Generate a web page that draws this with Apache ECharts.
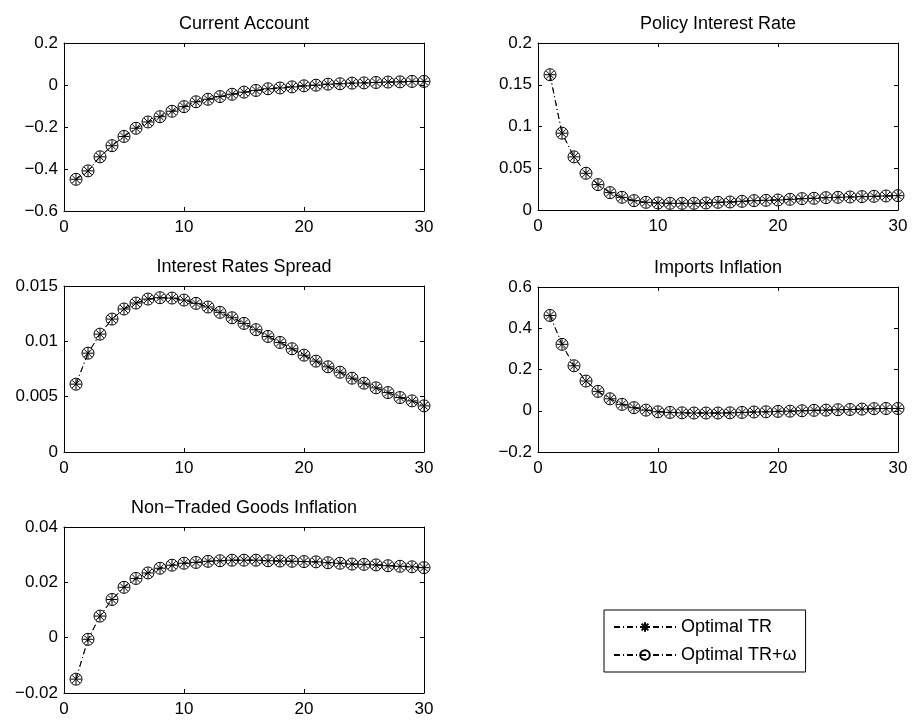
<!DOCTYPE html>
<html>
<head>
<meta charset="utf-8">
<script src="https://cdn.jsdelivr.net/npm/echarts@6/dist/echarts.min.js"></script>
<style>html,body{margin:0;padding:0;background:#fff}#c{width:913px;height:720px}</style>
</head>
<body>
<div id="c"></div>
<script>
// x: periods 1..30
var periods = [];
for (var i = 1; i <= 30; i++) periods.push(i);

var titles = ['Current Account', 'Policy Interest Rate', 'Interest Rates Spread', 'Imports Inflation', 'Non\u2212Traded Goods Inflation'];
var seriesNames = ['Optimal TR', 'Optimal TR+\u03c9'];

var currentAccount = [-0.449,-0.409,-0.342,-0.289,-0.245,-0.206,-0.176,-0.151,-0.125,-0.103,-0.080,-0.068,-0.055,-0.044,-0.034,-0.026,-0.018,-0.014,-0.009,-0.004,-0.001,0.004,0.006,0.009,0.010,0.012,0.014,0.015,0.017,0.017];
var policyRate = [0.162,0.092,0.0636,0.044,0.0304,0.0208,0.0152,0.0112,0.0092,0.0084,0.008,0.008,0.008,0.0084,0.0092,0.0096,0.0104,0.0112,0.0116,0.012,0.0128,0.0136,0.014,0.0148,0.0152,0.0156,0.016,0.0164,0.0168,0.0172];
var ratesSpread = [0.00613,0.00893,0.01065,0.01201,0.01292,0.01346,0.01382,0.01394,0.01391,0.01373,0.01343,0.0131,0.01262,0.01213,0.01162,0.01105,0.01044,0.0099,0.00933,0.00875,0.00821,0.0077,0.00721,0.00667,0.00622,0.0058,0.00537,0.00492,0.00462,0.00417];
var importsInflation = [0.462,0.322,0.218,0.144,0.094,0.058,0.031,0.015,0.003,-0.005,-0.008,-0.010,-0.011,-0.011,-0.011,-0.010,-0.008,-0.006,-0.005,-0.003,-0.002,0.000,0.002,0.003,0.005,0.006,0.008,0.010,0.011,0.011];
var nonTradedInflation = [-0.015,-0.0006,0.0078,0.0138,0.0182,0.0214,0.0234,0.0251,0.0262,0.0269,0.0272,0.0276,0.0278,0.028,0.028,0.028,0.0278,0.0277,0.0276,0.0275,0.0274,0.0271,0.0269,0.0266,0.0265,0.0263,0.026,0.0258,0.0256,0.0253];

// "Optimal TR+ω" responses coincide with "Optimal TR" in the picture
var panelData = [currentAccount, policyRate, ratesSpread, importsInflation, nonTradedInflation];
var yMin = [-0.6, 0, 0, -0.2, -0.02];
var yMax = [0.2, 0.2, 0.015, 0.6, 0.04];
var yStep = [0.2, 0.05, 0.005, 0.2, 0.02];

var grids = [
  {left: 64, top: 43, width: 360, height: 168},
  {left: 538, top: 43, width: 360, height: 167},
  {left: 64, top: 286, width: 360, height: 166},
  {left: 538, top: 287, width: 360, height: 165},
  {left: 64, top: 527, width: 360, height: 166}
];

var FONT = 'Liberation Sans';
function fmt(v) {
  var s = String(Number(v.toPrecision(6)));
  return s.replace('-', '\u2212');
}
var asterisk = 'path://M0,-10L0,10M-10,0L10,0M-7.07,-7.07L7.07,7.07M-7.07,7.07L7.07,-7.07';

var xAxes = [], yAxes = [], series = [], graphics = [];
grids.forEach(function (g, k) {
  ['bottom', 'top'].forEach(function (pos) {
    xAxes.push({
      type: 'value', gridIndex: k, position: pos, min: 0, max: 30, interval: 10,
      axisLine: {show: true, onZero: false, lineStyle: {color: '#000', width: 1}},
      axisTick: {show: true, inside: true, length: 4, lineStyle: {color: '#000'}},
      axisLabel: {show: pos === 'bottom', color: '#000', fontFamily: FONT, fontSize: 17, margin: 8},
      splitLine: {show: false}
    });
  });
  ['left', 'right'].forEach(function (pos) {
    yAxes.push({
      type: 'value', gridIndex: k, position: pos, min: yMin[k], max: yMax[k], interval: yStep[k],
      axisLine: {show: true, onZero: false, lineStyle: {color: '#000', width: 1}},
      axisTick: {show: true, inside: true, length: 4, lineStyle: {color: '#000'}},
      axisLabel: {show: pos === 'left', color: '#000', fontFamily: FONT, fontSize: 17, margin: 6, formatter: fmt},
      splitLine: {show: false}
    });
  });
  var pts = periods.map(function (p, i) { return [p, panelData[k][i]]; });
  series.push({
    name: seriesNames[1], type: 'line', xAxisIndex: 2 * k, yAxisIndex: 2 * k, data: pts,
    symbol: 'circle', symbolSize: 12, showAllSymbol: true, animation: false,
    itemStyle: {color: 'rgba(0,0,0,0)', borderColor: '#000', borderWidth: 1},
    lineStyle: {color: '#000', width: 0.9, type: [6, 3, 1, 3]},
    emphasis: {disabled: true}, z: 2
  });
  series.push({
    name: seriesNames[0], type: 'line', xAxisIndex: 2 * k, yAxisIndex: 2 * k, data: pts,
    symbol: asterisk, symbolSize: 11, showAllSymbol: true, animation: false,
    itemStyle: {color: '#000', borderColor: '#000', borderWidth: 1},
    lineStyle: {color: '#000', width: 0.9, type: [6, 3, 1, 3]},
    emphasis: {disabled: true}, z: 3
  });
  graphics.push({
    type: 'text', x: g.left + g.width / 2, y: g.top - 19,
    style: {text: titles[k], fill: '#000', font: '18px "' + FONT + '"', textAlign: 'center', textVerticalAlign: 'middle'}
  });
});

var chart = echarts.init(document.getElementById('c'), null, {renderer: 'canvas'});
chart.setOption({
  backgroundColor: '#fff',
  animation: false,
  grid: grids,
  xAxis: xAxes,
  yAxis: yAxes,
  series: series,
  graphic: graphics,
  legend: {
    data: seriesNames, orient: 'vertical', left: 604, top: 610,
    itemWidth: 62, itemHeight: 12, itemGap: 10,
    padding: [8, 9, 8, 9],
    backgroundColor: '#fff', borderColor: '#000', borderWidth: 1, borderRadius: 0,
    selectedMode: false,
    textStyle: {color: '#000', fontFamily: FONT, fontSize: 18, padding: [0, 0, 0, 0]}
  }
});
</script>
</body>
</html>
